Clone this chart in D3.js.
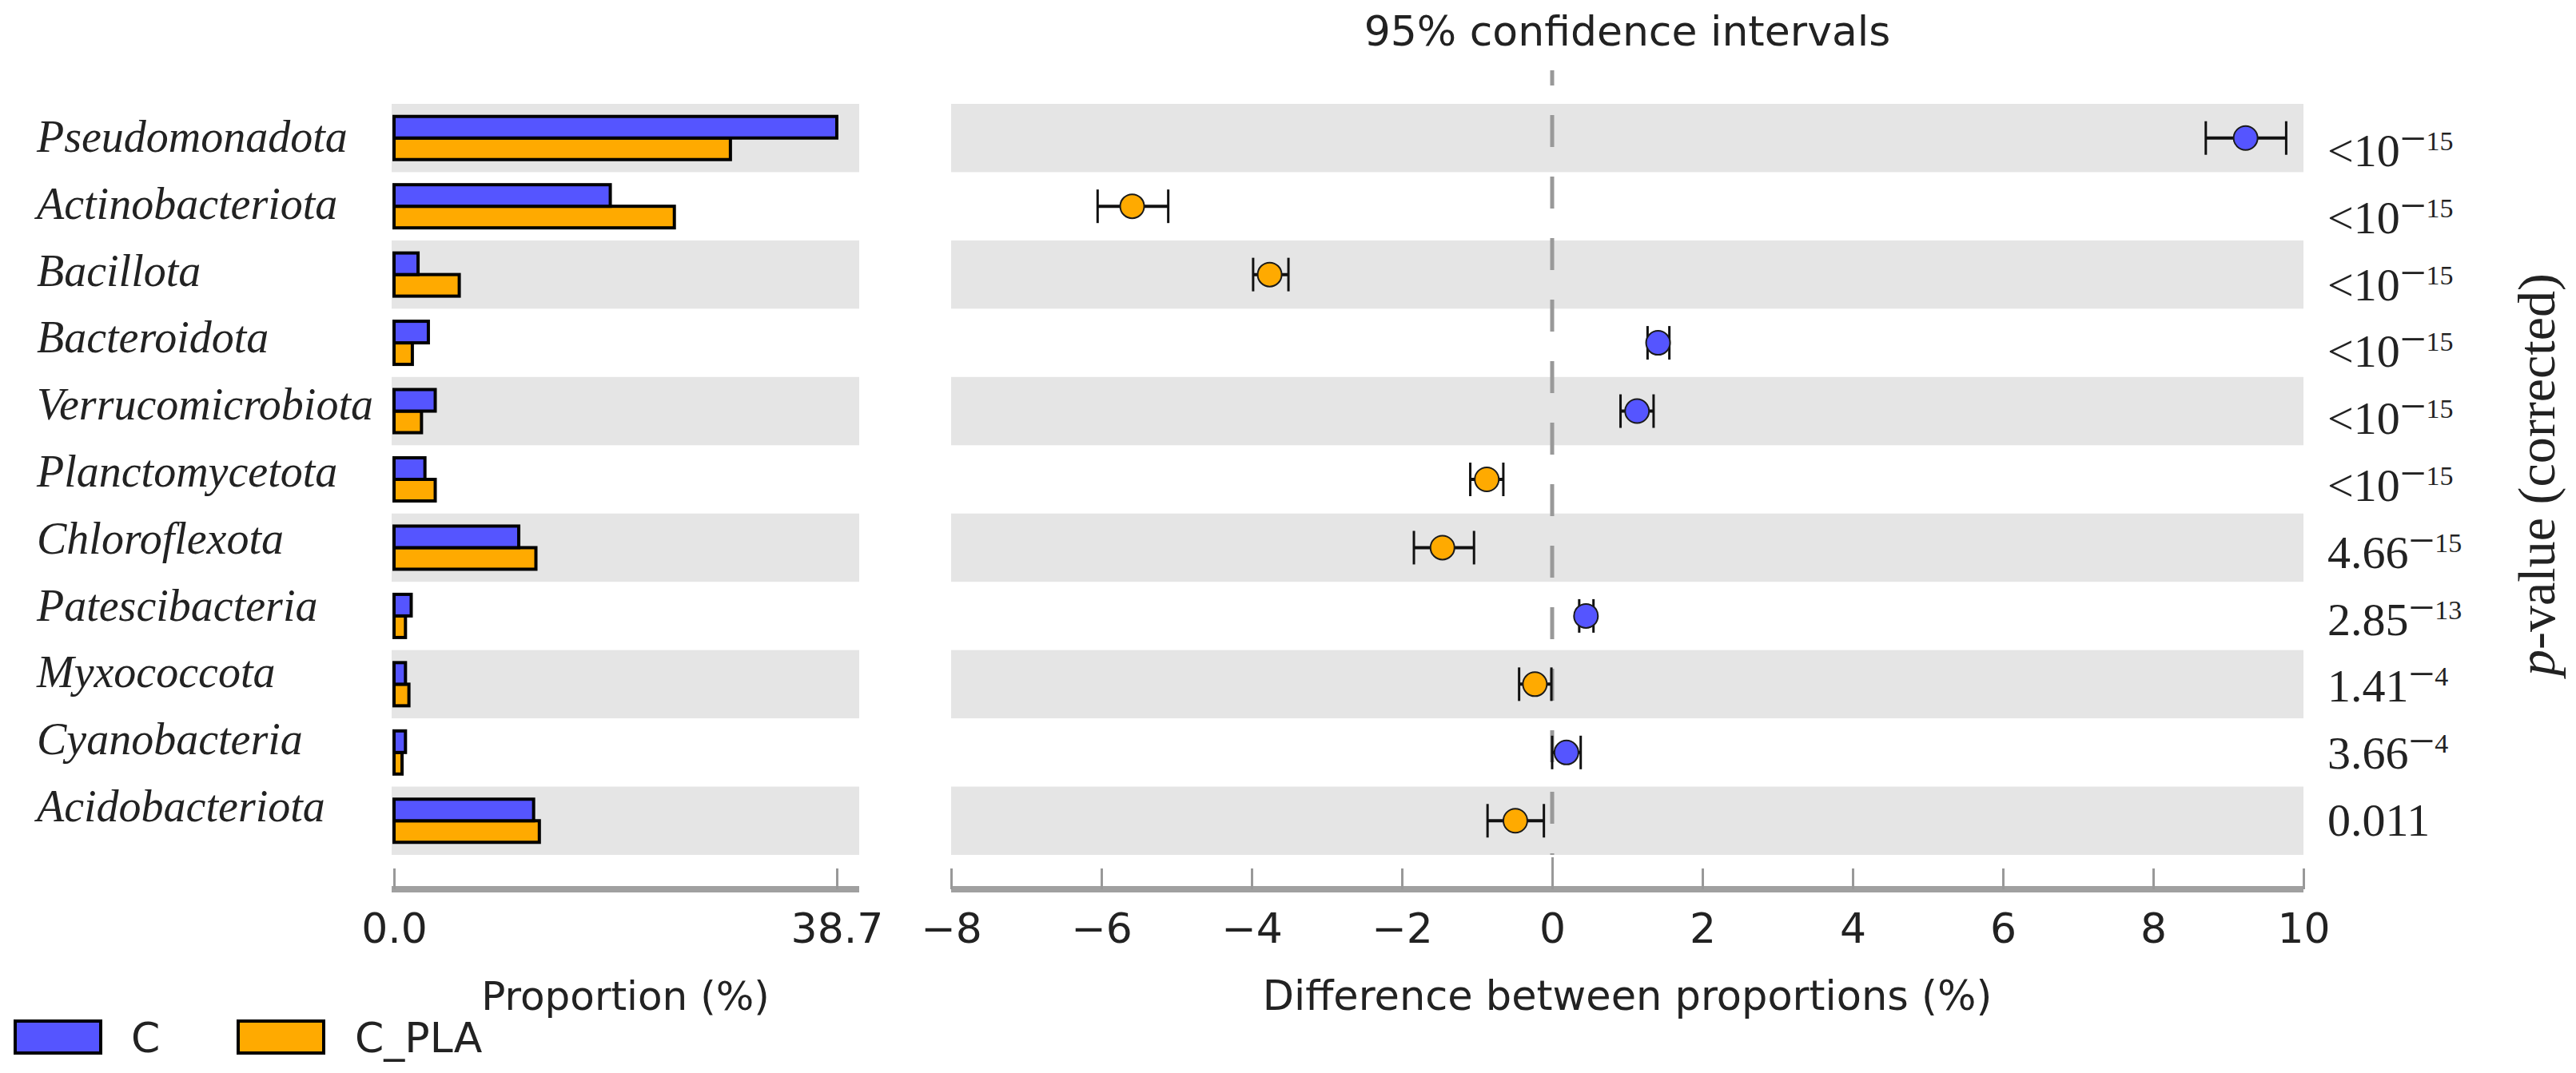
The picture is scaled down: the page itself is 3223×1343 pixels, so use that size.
<!DOCTYPE html>
<html>
<head>
<meta charset="utf-8">
<script src="https://cdn.jsdelivr.net/npm/d3@7"></script>
<style>
  body { margin: 0; background: #fff; }
  svg { display: block; }
</style>
</head>
<body>
<svg id="chart" width="3223" height="1343"></svg>
<script>
const taxa = [
  "Pseudomonadota", "Actinobacteriota", "Bacillota", "Bacteroidota",
  "Verrucomicrobiota", "Planctomycetota", "Chloroflexota", "Patescibacteria",
  "Myxococcota", "Cyanobacteria", "Acidobacteriota",
];
const groups = ["C", "C_PLA"];
const propC = [38.7, 18.9, 2.1, 3.0, 3.6, 2.7, 10.9, 1.5, 1.0, 1.0, 12.2];
const propPla = [29.4, 24.5, 5.7, 1.6, 2.4, 3.6, 12.4, 1.0, 1.3, 0.7, 12.7];
const diffMean = [9.23, -5.59, -3.76, 1.41, 1.13, -0.87, -1.46, 0.45, -0.23, 0.19, -0.49];
const ciLow = [8.70, -6.05, -3.98, 1.27, 0.91, -1.09, -1.84, 0.36, -0.44, 0.00, -0.86];
const ciHigh = [9.77, -5.11, -3.51, 1.56, 1.35, -0.65, -1.04, 0.55, -0.01, 0.38, -0.11];
const pBase = ["<10", "<10", "<10", "<10", "<10", "<10", "4.66", "2.85", "1.41", "3.66", "0.011"];
const pExp = ["15", "15", "15", "15", "15", "15", "15", "13", "4", "4", ""];
const propTicks = [0, 38.7];
const diffTicks = [-8, -6, -4, -2, 0, 2, 4, 6, 8, 10];

(function () {
  const svg = d3.select("#chart");
  const colors = { C: "#5555ff", C_PLA: "#ffaa00" };
  const sans = "'DejaVu Sans', sans-serif";
  const serif = "'Liberation Serif', 'Times New Roman', serif";
  const ink = "#222";

  const y = d3.scaleBand().domain(taxa).range([130, 1070]);
  const labelY = d3.scalePoint().domain(taxa).range([190, 1028]);
  const xProp = d3.scaleLinear().domain([0, 38.7]).range([493, 1047]);
  const xDiff = d3.scaleLinear().domain([-8, 10]).range([1190, 2882]);
  const leftPanel = [490, 1075];
  const rightPanel = [1190, 2882];
  const axisY = 1113;
  const mid = (name) => y(name) + y.bandwidth() / 2;

  // alternating stripes behind both panels
  const striped = taxa.filter((_name, i) => i % 2 === 0);
  [leftPanel, rightPanel].forEach(([x0, x1]) => {
    svg.append("g")
      .selectAll("rect")
      .data(striped)
      .join("rect")
      .attr("x", x0)
      .attr("width", x1 - x0)
      .attr("y", (name) => y(name))
      .attr("height", y.bandwidth())
      .attr("fill", "#e5e5e5");
  });

  // taxon names
  svg.append("g")
    .selectAll("text")
    .data(taxa)
    .join("text")
    .attr("x", 46)
    .attr("y", (name) => labelY(name))
    .attr("font-family", serif)
    .attr("font-style", "italic")
    .attr("font-size", 56)
    .attr("fill", ink)
    .text((name) => name);

  // proportion bars
  const barH = 27;
  const bars = svg.append("g").attr("stroke", "#000").attr("stroke-width", 4);
  bars.selectAll("rect.pla")
    .data(taxa)
    .join("rect")
    .attr("class", "pla")
    .attr("x", xProp(0))
    .attr("y", (name) => mid(name))
    .attr("width", (_name, i) => xProp(propPla[i]) - xProp(0))
    .attr("height", barH)
    .attr("fill", colors.C_PLA);
  bars.selectAll("rect.c")
    .data(taxa)
    .join("rect")
    .attr("class", "c")
    .attr("x", xProp(0))
    .attr("y", (name) => mid(name) - barH)
    .attr("width", (_name, i) => xProp(propC[i]) - xProp(0))
    .attr("height", barH)
    .attr("fill", colors.C);

  // zero reference line
  svg.append("line")
    .attr("x1", xDiff(0))
    .attr("x2", xDiff(0))
    .attr("y1", 88)
    .attr("y2", 1070)
    .attr("stroke", "#999")
    .attr("stroke-width", 5)
    .attr("stroke-dasharray", "40,37")
    .attr("stroke-dashoffset", 21);

  // confidence intervals
  const ci = svg.append("g").attr("stroke", "#111");
  ci.selectAll("line.span")
    .data(taxa)
    .join("line")
    .attr("class", "span")
    .attr("x1", (_name, i) => xDiff(ciLow[i]))
    .attr("x2", (_name, i) => xDiff(ciHigh[i]))
    .attr("y1", (name) => mid(name))
    .attr("y2", (name) => mid(name))
    .attr("stroke-width", 4);
  ["low", "high"].forEach((side) => {
    const values = side === "low" ? ciLow : ciHigh;
    ci.selectAll(`line.${side}`)
      .data(taxa)
      .join("line")
      .attr("class", side)
      .attr("x1", (_name, i) => xDiff(values[i]))
      .attr("x2", (_name, i) => xDiff(values[i]))
      .attr("y1", (name) => mid(name) - 21)
      .attr("y2", (name) => mid(name) + 21)
      .attr("stroke-width", 3);
  });

  svg.append("g")
    .selectAll("circle")
    .data(taxa)
    .join("circle")
    .attr("cx", (_name, i) => xDiff(diffMean[i]))
    .attr("cy", (name) => mid(name))
    .attr("r", 15)
    .attr("fill", (_name, i) => diffMean[i] > 0 ? colors.C : colors.C_PLA)
    .attr("stroke", "#1a1a1a")
    .attr("stroke-width", 2);

  // bottom axes
  function drawAxis(scale, ticks, format, extent) {
    svg.append("line")
      .attr("x1", extent[0])
      .attr("x2", extent[1])
      .attr("y1", axisY)
      .attr("y2", axisY)
      .attr("stroke", "#a0a0a0")
      .attr("stroke-width", 8);
    const g = svg.append("g")
      .attr("transform", `translate(0,${axisY})`)
      .call(d3.axisBottom(scale)
        .tickValues(ticks)
        .tickFormat(format)
        .tickSize(-26)
        .tickSizeOuter(0)
        .tickPadding(30));
    g.select(".domain").remove();
    g.selectAll(".tick line").attr("stroke", "#999").attr("stroke-width", 3);
    g.selectAll(".tick text")
      .attr("font-family", sans)
      .attr("font-size", 52)
      .attr("fill", ink);
    return g;
  }

  drawAxis(xProp, propTicks, d3.format(".1f"), leftPanel);
  const diffAxis = drawAxis(xDiff, diffTicks, d3.format("d"), rightPanel);
  diffAxis.selectAll(".tick line").filter((value) => value === 0).attr("y2", -40);

  svg.append("text")
    .attr("x", (leftPanel[0] + leftPanel[1]) / 2)
    .attr("y", 1264)
    .attr("text-anchor", "middle")
    .attr("font-family", sans)
    .attr("font-size", 50)
    .attr("fill", ink)
    .text("Proportion (%)");

  svg.append("text")
    .attr("x", (rightPanel[0] + rightPanel[1]) / 2)
    .attr("y", 1264)
    .attr("text-anchor", "middle")
    .attr("font-family", sans)
    .attr("font-size", 51)
    .attr("fill", ink)
    .text("Difference between proportions (%)");

  svg.append("text")
    .attr("x", (rightPanel[0] + rightPanel[1]) / 2)
    .attr("y", 57)
    .attr("text-anchor", "middle")
    .attr("font-family", sans)
    .attr("font-size", 52)
    .attr("fill", ink)
    .text("95% confidence intervals");

  // corrected p-values
  const pText = svg.append("g")
    .selectAll("text")
    .data(taxa)
    .join("text")
    .attr("x", 2912)
    .attr("y", (name) => labelY(name) + 18)
    .attr("font-family", serif)
    .attr("font-size", 58)
    .attr("fill", ink);
  pText.append("tspan").text((_name, i) => pBase[i]);
  pText.filter((_name, i) => pExp[i] !== "")
    .append("tspan")
    .attr("dy", -15)
    .text("\u2212");
  pText.filter((_name, i) => pExp[i] !== "")
    .append("tspan")
    .attr("dy", -5)
    .attr("font-size", 34)
    .text((_name, i) => pExp[i]);

  const pLabel = svg.append("text")
    .attr("transform", "translate(3196,594) rotate(-90)")
    .attr("text-anchor", "middle")
    .attr("font-family", serif)
    .attr("font-size", 66)
    .attr("fill", ink);
  pLabel.append("tspan").attr("font-style", "italic").text("p");
  pLabel.append("tspan").text("-value (corrected)");

  // legend
  const legendX = [19, 298];
  const legendTextX = [164, 444];
  groups.forEach((group, i) => {
    svg.append("rect")
      .attr("x", legendX[i])
      .attr("y", 1278)
      .attr("width", 107)
      .attr("height", 40)
      .attr("fill", colors[group])
      .attr("stroke", "#000")
      .attr("stroke-width", 4);
    svg.append("text")
      .attr("x", legendTextX[i])
      .attr("y", 1317)
      .attr("font-family", sans)
      .attr("font-size", 52)
      .attr("fill", ink)
      .text(group);
  });
})();
</script>
</body>
</html>
